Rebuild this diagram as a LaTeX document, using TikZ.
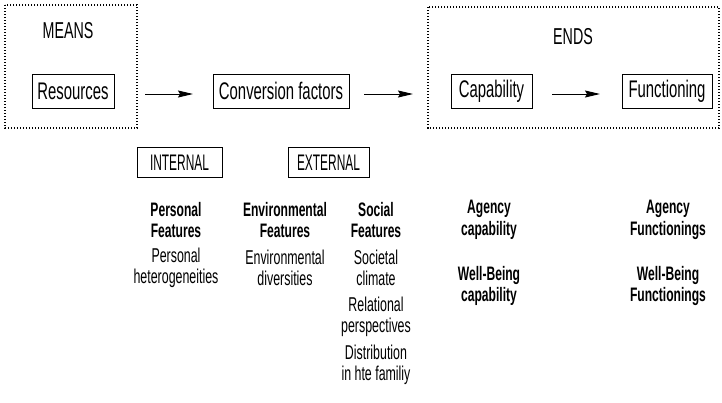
\documentclass[tikz,border=0pt]{standalone}
\usepackage{fontspec}
\setmainfont{Liberation Sans}[FakeStretch=0.62]
\newfontfamily\tagfont{Liberation Sans}[FakeStretch=0.53]
\usetikzlibrary{arrows.meta}
\begin{document}
\begin{tikzpicture}[x=1pt,y=-1pt,
  box/.style={draw,line width=0.9pt,minimum height=34pt,inner xsep=4pt,font=\fontsize{24}{26}\selectfont},
  tag/.style={draw,line width=0.9pt,minimum height=30pt,inner xsep=4pt,font=\tagfont\fontsize{22.5}{24}\selectfont},
  grp/.style={draw,line width=1.4pt,dash pattern=on 1.4pt off 1.6pt},
  head/.style={font=\fontsize{23}{25}\selectfont},
  bld/.style={align=center,font=\bfseries\fontsize{19.5}{21.5}\selectfont},
  reg/.style={align=center,font=\fontsize{20}{21}\selectfont},
  arr/.style={-{Stealth[length=15pt,width=7pt,inset=2pt]},line width=0.9pt}]
\useasboundingbox (0,0) rectangle (722,402);
\draw[grp] (5,5) rectangle (137,128);
\draw[grp] (428,7) rectangle (719,128);
\node[head] (means) at (68,31) {MEANS};
\node[head] (ends) at (573,37) {ENDS};
\node[box,minimum width=82pt] (res) at (73,91) {Resources};
\node[box,minimum width=136pt] (conv) at (281,91) {Conversion factors};
\node[box,minimum width=81pt] (cap) at (491.5,91) {Capability};
\node[box,minimum width=90pt] (fun) at (667,91) {Functioning};
\coordinate (a1s) at (145,94); \coordinate (a1e) at (193,94);
\coordinate (a2s) at (364,94); \coordinate (a2e) at (413,94);
\coordinate (a3s) at (552,94); \coordinate (a3e) at (600,94);
\draw[arr] (a1s) -- (a1e);
\draw[arr] (a2s) -- (a2e);
\draw[arr] (a3s) -- (a3e);
\node[tag,minimum width=85pt] (int) at (179.5,162.5) {INTERNAL};
\node[tag,minimum width=81pt] (ext) at (328.5,162.5) {EXTERNAL};
\node[bld] (pf) at (176,220) {Personal\\Features};
\node[reg] (ph) at (176,268) {Personal\\heterogeneities};
\node[bld] (ef) at (285,220) {Environmental\\Features};
\node[reg] (ed) at (285,268) {Environmental\\diversities};
\node[bld] (sf) at (376,220) {Social\\Features};
\node[reg] (sc) at (376,268) {Societal\\climate};
\node[reg] (rp) at (376,317) {Relational\\perspectives};
\node[reg] (dh) at (376,365) {Distribution\\in hte familiy};
\node[bld] (ac) at (489,220) {Agency\\capability};
\node[bld] (wc) at (489,286) {Well-Being\\capability};
\node[bld] (af) at (668,220) {Agency\\Functionings};
\node[bld] (wf) at (668,286) {Well-Being\\Functionings};
\end{tikzpicture}
\end{document}
